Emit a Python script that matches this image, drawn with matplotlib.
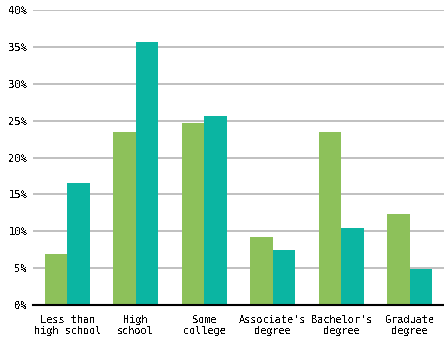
import matplotlib
matplotlib.use("Agg")
import matplotlib.pyplot as plt
import numpy as np
from matplotlib.ticker import FuncFormatter

categories = ["Less than\nhigh school", "High\nschool", "Some\ncollege",
              "Associate's\ndegree", "Bachelor's\ndegree", "Graduate\ndegree"]
series_a = [6.9, 23.5, 24.7, 9.2, 23.5, 12.3]
series_b = [16.5, 35.7, 25.6, 7.5, 10.4, 4.9]
y_ticks = [0, 5, 10, 15, 20, 25, 30, 35, 40]

plt.rcParams['font.family'] = 'DejaVu Sans Mono'
plt.rcParams['text.antialiased'] = False

fig = plt.figure(figsize=(4.44, 3.39), dpi=100)
ax = fig.add_axes([33 / 444, 1 - 305 / 339, 1 - 33 / 444, (305 - 10) / 339])
ax.set_axisbelow(True)

x = np.arange(len(categories))
w = 0.33
ax.bar(x - w / 2, series_a, width=w, color='#8dc15a', zorder=3)
ax.bar(x + w / 2, series_b, width=w, color='#0bb5a2', zorder=3)

ax.set_xlim(-0.5, len(categories) - 0.5)
ax.set_ylim(0, 40)
ax.set_yticks(y_ticks)
ax.yaxis.set_major_formatter(FuncFormatter(lambda v, p: f"{int(v)}%"))
ax.set_xticks(x)
ax.set_xticklabels(categories, fontsize=7.4, linespacing=1.2)
ax.tick_params(axis='y', length=0, pad=4, labelsize=7.6)
ax.tick_params(axis='x', length=0, pad=7)

# light horizontal grid, black baseline only
ax.grid(axis='y', color='#b5b5b5', linewidth=1.2)
for s in ['top', 'right', 'left']:
    ax.spines[s].set_visible(False)
ax.spines['bottom'].set_color('black')
ax.spines['bottom'].set_linewidth(1.5)
ax.spines['bottom'].set_zorder(4)

fig.savefig("out.png", dpi=100)
